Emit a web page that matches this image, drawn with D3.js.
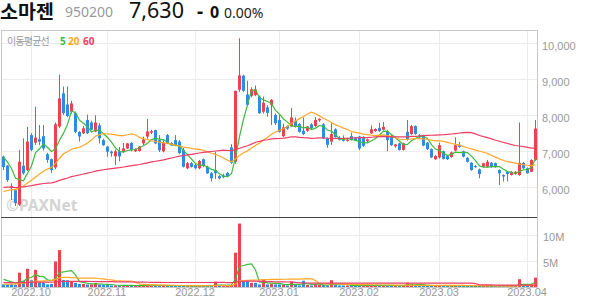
<!DOCTYPE html>
<html>
<head>
<meta charset="utf-8">
<script src="https://cdn.jsdelivr.net/npm/d3@7"></script>
<style>
  body { margin: 0; background: #fff; }
  svg { display: block; font-family: "Noto Sans", "Noto Sans CJK KR", sans-serif; }
</style>
</head>
<body>
<div id="chart"></div>
<script>
// trading calendar
const firstDay = "2022-09-22";
const lastDay = "2023-04-05";
const holidays = ["2022-10-03", "2022-10-10", "2022-12-30", "2023-01-23", "2023-01-24", "2023-03-01"];
const monthLabels = ["2022.10", "2022.11", "2022.12", "2023.01", "2023.02", "2023.03", "2023.04"];

// daily candles (KRW)
const opens = [6850,6600,5980,5920,5520,6600,6480,7450,7240,7340,7420,6920,6780,6550,7690,8610,8300,8100,8060,7540,
  7500,7870,7800,7550,7720,7310,7130,6990,6860,7000,6990,7080,7230,7000,7010,7220,7410,7520,7590,7310,
  7000,7450,7230,7310,7270,7040,6530,6670,6620,6530,6780,6570,6390,6480,6310,6330,6400,7110,6710,8710,
  9100,8580,8540,8560,8520,8100,8220,8290,8010,7870,7420,7700,7690,7850,7760,7570,7570,7750,7700,7860,
  7750,7360,7270,7610,7380,7330,7290,7420,7370,7410,7400,7280,7500,7560,7650,7600,7540,7420,7140,7220,
  7040,7540,7480,7700,7450,7420,7240,7060,6780,6830,7000,6880,6840,7020,7180,7000,6820,6680,6590,6500,
  6570,6570,6680,6670,6480,6340,6430,6340,6370,6340,6680,6530,6430,6760];
const highs = [6880,6620,6110,5940,7040,7360,7680,7500,8240,7730,7730,6960,6800,7800,9130,8800,8800,8400,8100,7560,
  7700,8020,7850,8000,7780,7350,7150,7020,7050,7120,7230,7230,7260,7080,7150,7410,7900,7600,7600,7450,
  7310,7480,7260,7450,7310,7100,6700,6700,6650,6760,6800,6600,6420,6990,6340,6380,6430,7200,8680,10140,
  9130,8960,8780,8830,8550,8520,8280,8450,8050,8010,7770,7720,8200,7940,7780,7940,7700,7780,7950,7920,
  7780,7380,7780,7640,7420,7440,7340,7520,7390,7430,7420,7350,7720,7640,7790,7810,7600,7450,7200,7240,
  7240,7870,7730,7720,7480,7460,7260,7080,6900,7240,7020,6900,6990,7390,7260,7020,6840,6700,6620,6520,
  6680,6760,6700,6690,6500,6360,6440,6450,6450,7800,6700,6550,6780,7870];
const lows = [6480,6150,5650,5480,5480,6350,6450,7000,7180,7170,7020,6680,6400,6500,7650,8010,7950,8050,7500,7270,
  7480,7480,7580,7530,7220,7150,6850,6850,6620,6720,6960,7060,7000,6980,6990,7170,7350,7480,7200,6980,
  6970,7200,7150,7140,6920,6550,6500,6550,6500,6500,6560,6370,6160,6230,6220,6250,6280,6650,6650,8650,
  8650,8250,8500,8530,8040,8050,7960,7730,7730,7520,7400,7600,7680,7660,7520,7450,7540,7620,7680,7820,
  7340,7100,7180,7380,7300,7270,7270,7300,7280,7030,7120,7250,7480,7540,7540,7580,7000,7150,7100,7020,
  7020,7300,7460,7460,7370,7140,7040,6810,6760,6800,6770,6760,6820,7000,7100,6830,6690,6460,6540,6250,
  6550,6550,6540,6540,6060,6160,6160,6330,6350,6320,6500,6380,6420,6740];
const closes = [6560,6200,6030,5560,6710,6390,7270,7040,7380,7270,7080,6760,6480,7750,8470,8060,7980,8330,7540,7410,
  7640,7500,7600,7800,7360,7170,6990,6950,7000,6860,7080,7220,7030,7060,7130,7330,7550,7560,7220,7030,
  7240,7220,7170,7170,6950,6570,6670,6570,6530,6730,6590,6390,6250,6390,6250,6280,6300,6680,8680,9110,
  8680,8290,8720,8720,8060,8350,8070,8430,7780,7540,7670,7630,7940,7680,7540,7480,7690,7640,7870,7900,
  7360,7180,7480,7390,7320,7290,7320,7320,7300,7080,7150,7330,7610,7620,7560,7680,7310,7170,7190,7040,
  7220,7330,7700,7480,7390,7160,7060,6830,6870,7170,6790,6780,6970,7170,7120,6850,6710,6480,6560,6370,
  6670,6710,6560,6560,6390,6300,6370,6430,6430,6680,6530,6390,6760,7630];
// daily volume (millions of shares)
const volumes = [0.5,0.5,0.6,0.4,2.75,1.2,3.5,1.3,3.3,0.9,0.9,0.5,0.6,4.9,7.1,1.35,1.3,1.1,0.8,0.6,
  0.6,0.5,0.5,0.8,0.5,0.4,0.4,0.3,0.3,0.3,0.3,0.3,0.3,0.25,0.25,0.3,0.4,0.3,0.3,0.25,
  0.25,0.3,0.2,0.2,0.25,0.3,0.2,0.2,0.2,0.2,0.2,0.2,0.25,1.0,0.2,0.2,0.2,0.4,6.6,12.2,
  1.3,1.3,0.8,0.8,0.5,1.4,0.5,0.6,0.5,0.5,0.4,0.3,1.0,0.4,0.3,1.2,0.4,0.3,0.5,0.4,
  0.4,0.3,1.3,0.4,0.3,0.3,0.3,0.3,0.3,0.3,0.3,0.3,0.4,0.3,0.3,0.3,0.3,0.3,0.2,0.2,
  0.3,0.8,0.5,0.3,0.3,0.3,0.3,0.3,0.2,0.3,0.2,0.2,0.2,0.3,0.2,0.2,0.2,0.2,0.2,0.2,
  0.2,0.3,0.2,0.2,0.3,0.2,0.2,0.2,0.2,1.5,0.4,0.3,0.5,1.8];

// moving averages; the unseen days before the chart are given as blocks
// (number of days, level), oldest first
const maPeriods = [5, 20, 60];
const priorDays = [40, 15, 4];
const priorCloseLevels = [6060, 5560, 6910];
const priorVolumeLevels = [1.0, 0.2, 1.7];

const priceTicks = [6000, 7000, 8000, 9000, 10000];
const volumeTicks = [5, 10];

// header
const stockName = "소마젠";
const stockCode = "950200";
const lastPrice = "7,630";
const change = "0";
const changePct = "0.00%";

const width = 594, height = 304;
const plotLeft = 1, plotRight = 537, plotTop = 30, plotSplit = 217, plotBottom = 287;
const upColor = "#f0414c", downColor = "#2f8be6";
const maColors = ["#3dbb3d", "#ffa726", "#f03c64"];

const parse = d3.timeParse("%Y-%m-%d");
const fmt = d3.timeFormat("%Y-%m-%d");
const monthFmt = d3.timeFormat("%Y.%m");
const days = d3.timeDay.range(parse(firstDay), d3.timeDay.offset(parse(lastDay), 1))
  .filter(d => d.getDay() !== 0 && d.getDay() !== 6 && !holidays.includes(fmt(d)));

const data = days.map((d, i) => ({
  i, date: d, o: opens[i], h: highs[i], l: lows[i], c: closes[i], v: volumes[i]
}));

const expandPrior = levels => priorDays.flatMap((n, k) => Array(n).fill(levels[k]));

// average of the last `period` values, reaching back into the prior days
const movingAvg = (vals, prior, period) => {
  const all = prior.concat(vals);
  return vals.map((v, i) => d3.mean(all.slice(prior.length + i - period + 1, prior.length + i + 1)));
};

const svg = d3.select("#chart").append("svg")
  .attr("width", width).attr("height", height);

const x = d3.scaleBand().domain(d3.range(data.length)).range([plotLeft, plotRight]);
const cx = i => Math.round(x(i) + x.bandwidth() / 2);
const yP = d3.scaleLinear().domain([5175, 10370]).range([plotSplit, plotTop]);
const yV = d3.scaleLinear().domain([0, 13.46]).range([plotBottom, plotSplit]);

// month ticks: first trading day of each month
const monthIdx = monthLabels.map(m => data.findIndex(d => monthFmt(d.date) === m));

// header
const head = svg.append("g");
head.append("text").attr("x", 0).attr("y", 18.5)
  .style("font-family", "'Noto Sans CJK KR'").style("font-weight", "bold").style("font-size", "19.5px")
  .attr("fill", "#111").text(stockName);
head.append("text").attr("x", 65).attr("y", 17)
  .style("font-size", "14px").attr("fill", "#999").text(stockCode);
head.append("text").attr("x", 129).attr("y", 17.5)
  .style("font-size", "21.5px").attr("fill", "#111").text(lastPrice);
head.append("text").attr("x", 197).attr("y", 17.5)
  .style("font-size", "19px").style("font-weight", "bold").attr("fill", "#111").text("-");
head.append("text").attr("x", 210).attr("y", 17.5)
  .style("font-size", "16px").style("font-weight", "bold").attr("fill", "#111").text(change);
head.append("text").attr("x", 224).attr("y", 17.5)
  .style("font-size", "14px").attr("fill", "#222").text(changePct);

// grid
const grid = svg.append("g").attr("stroke", "#ececec").attr("stroke-width", 1);
grid.selectAll(".hp").data(priceTicks).join("line")
  .attr("x1", plotLeft).attr("x2", plotRight)
  .attr("y1", d => Math.round(yP(d)) + 0.5).attr("y2", d => Math.round(yP(d)) + 0.5);
grid.selectAll(".hv").data(volumeTicks).join("line")
  .attr("x1", plotLeft).attr("x2", plotRight)
  .attr("y1", d => Math.round(yV(d)) + 0.5).attr("y2", d => Math.round(yV(d)) + 0.5);
grid.selectAll(".vm").data(monthIdx).join("line")
  .attr("x1", d => cx(d) + 0.5).attr("x2", d => cx(d) + 0.5)
  .attr("y1", plotTop).attr("y2", plotBottom);

// watermark
svg.append("text").attr("x", 6).attr("y", 211)
  .style("font-size", "15.5px").style("font-weight", "bold")
  .attr("fill", "#d4d4d4").text("©PAXNet");

// frame
svg.append("rect").attr("x", plotLeft + 0.5).attr("y", plotTop + 0.5)
  .attr("width", plotRight - plotLeft).attr("height", plotBottom - plotTop)
  .attr("fill", "none").attr("stroke", "#c8c8c8");
svg.append("line").attr("x1", plotLeft).attr("x2", plotRight)
  .attr("y1", plotSplit + 0.5).attr("y2", plotSplit + 0.5).attr("stroke", "#444");

// legend
const legend = svg.append("g").style("font-size", "10px");
legend.append("text").attr("x", 7).attr("y", 44.5)
  .style("font-family", "'Noto Sans CJK KR'").style("letter-spacing", "-0.8px")
  .attr("fill", "#999").text("이동평균선");
legend.selectAll(".lg").data(maPeriods).join("text")
  .attr("x", (d, k) => [60, 68, 83][k]).attr("y", 44.5)
  .style("font-weight", "bold").attr("fill", (d, k) => maColors[k]).text(d => d);

// candles
const candles = svg.append("g").selectAll("g").data(data).join("g")
  .attr("fill", d => d.c >= d.o ? upColor : downColor)
  .attr("stroke", d => d.c >= d.o ? upColor : downColor);
candles.append("line")
  .attr("x1", d => cx(d.i) + 0.5).attr("x2", d => cx(d.i) + 0.5)
  .attr("y1", d => yP(d.h)).attr("y2", d => yP(d.l));
candles.append("rect")
  .attr("stroke", "none")
  .attr("x", d => cx(d.i) - 1).attr("width", 3)
  .attr("y", d => yP(Math.max(d.o, d.c)))
  .attr("height", d => Math.max(1, Math.abs(yP(d.o) - yP(d.c))));

// price moving averages
const line = d3.line().x((d, i) => cx(i) + 0.5).y(d => d);
maPeriods.forEach((p, k) => {
  const vals = movingAvg(closes, expandPrior(priorCloseLevels), p).map(yP);
  svg.append("path").attr("d", line(vals)).attr("fill", "none")
    .attr("stroke", maColors[k]).attr("stroke-width", 1.2);
});

// volume bars, coloured against the previous close
svg.append("g").selectAll("rect").data(data).join("rect")
  .attr("x", d => cx(d.i) - 1).attr("width", 3)
  .attr("y", d => yV(d.v)).attr("height", d => plotBottom - yV(d.v))
  .attr("fill", d => d.c > (d.i ? closes[d.i - 1] : d.o) ? upColor : downColor);

maPeriods.forEach((p, k) => {
  const vals = movingAvg(volumes, expandPrior(priorVolumeLevels), p).map(yV);
  svg.append("path").attr("d", line(vals)).attr("fill", "none")
    .attr("stroke", maColors[k]).attr("stroke-width", 1.2);
});

// axes
const axisStyle = g => {
  g.select(".domain").remove();
  g.selectAll("text").attr("fill", "#999").style("font-size", "11px");
};
svg.append("g").attr("transform", `translate(${plotRight},0)`)
  .call(d3.axisRight(yP).tickValues(priceTicks).tickFormat(d3.format(",")).tickSize(0).tickPadding(5))
  .call(axisStyle)
  .call(g => g.selectAll("text").attr("dy", "0.52em"));
svg.append("g").attr("transform", `translate(${plotRight},0)`)
  .call(d3.axisRight(yV).tickValues(volumeTicks).tickFormat(d => d + "M").tickSize(0).tickPadding(6))
  .call(axisStyle)
  .call(g => g.selectAll("text").attr("dy", "0.48em"));
svg.append("g").attr("transform", `translate(0,${plotBottom})`)
  .call(d3.axisBottom(x).tickValues(monthIdx).tickFormat((d, k) => monthLabels[k]).tickSize(0).tickPadding(1))
  .call(axisStyle);
</script>
</body>
</html>
